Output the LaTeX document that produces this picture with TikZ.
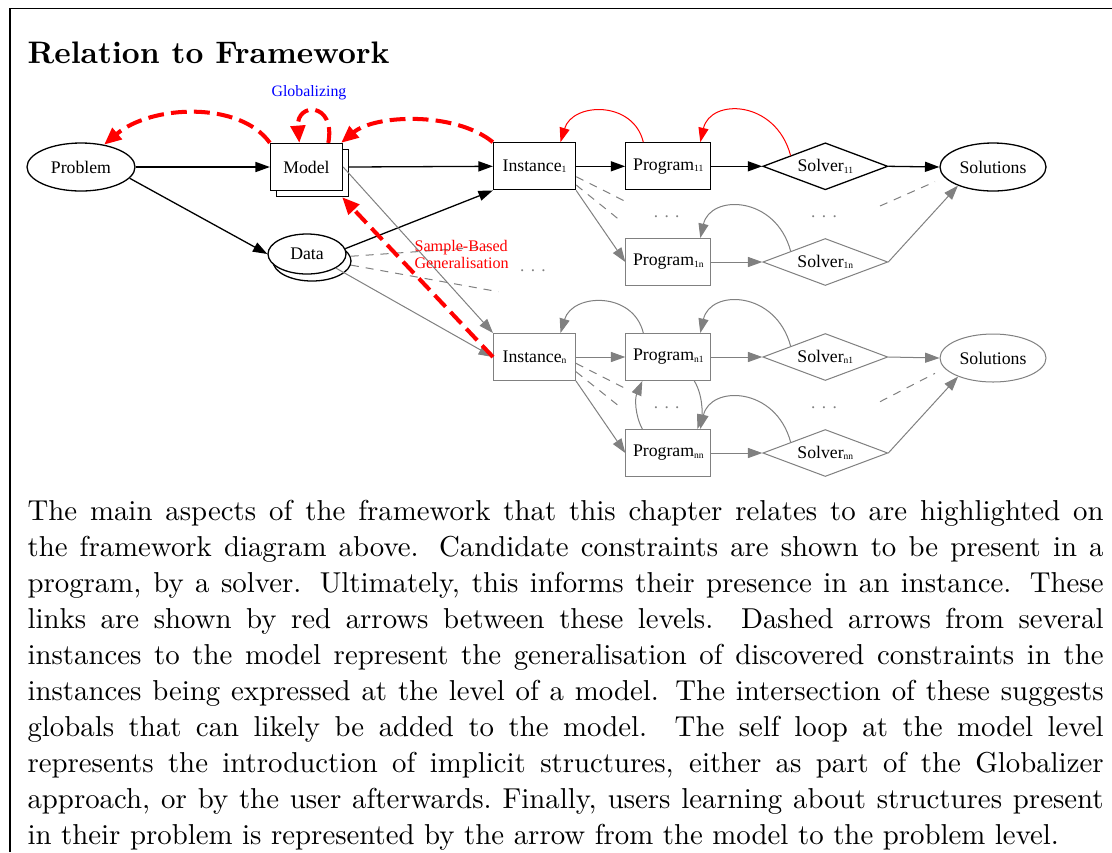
\documentclass[tikz,border=0pt]{standalone}
\usepackage{fontspec}
\newfontfamily\gvf{Liberation Serif}
\usetikzlibrary{shapes.geometric,arrows.meta,calc}
\newcommand{\pxu}{0.3472pt}
\newcommand{\sbs}[1]{\raisebox{-0.4pt}{\fontsize{3.3}{3.6}\selectfont#1}}
\tikzset{
  gv/.style={font=\gvf\fontsize{6.15}{7}\selectfont, inner sep=0pt, fill=white},
  nb/.style={draw=black, line width=0.45pt},
  ng/.style={draw=gray, line width=0.35pt},
  boxn/.style={rectangle, minimum width=#1*\pxu, minimum height=47*\pxu},
  elln/.style 2 args={ellipse, minimum width=#1*\pxu, minimum height=#2*\pxu},
  dian/.style={diamond, aspect=2.66, minimum width=125*\pxu, minimum height=47*\pxu},
  tip/.style={-{Triangle[length=5pt,width=3.5pt]}},
  eb/.style={draw=black, line width=0.45pt, tip},
  eg/.style={draw=gray, line width=0.35pt, tip},
  er/.style={draw=red, line width=0.35pt, tip},
  rt/.style={draw=red, line width=1.4pt, dash pattern=on 5.5pt off 2.5pt, -{Triangle[length=6pt,width=5pt]}},
  dg/.style={draw=gray, line width=0.35pt, dash pattern=on 2.8pt off 2.4pt},
  dotn/.style={font=\gvf\fontsize{6}{7}\selectfont, text=gray, anchor=base, inner sep=0pt},
}
\begin{document}
\begin{tikzpicture}[x=0.3472pt, y=-0.3472pt]
\useasboundingbox (0,0) rectangle (1112,852);
% frame
\draw[line width=0.45pt] (10,852) -- (10,8.5) -- (1112,8.5);
% title
\node[anchor=base west, inner sep=0pt, font=\fontsize{10.8}{13}\selectfont\bfseries] (title) at (27,63.3) {Relation to Framework};

% nodes
\node[gv, nb, elln={108}{48}] (prob) at (81,167) {Problem};
\node[gv, nb, boxn=72] (modelb) at (312.5,173) {};
\node[gv, nb, boxn=72] (model) at (306.5,167) {Model};
\node[gv, nb, elln={78}{40}] (datab) at (312,261) {};
\node[gv, nb, elln={78}{40}] (data) at (307,254) {Data};

\node[gv, nb, boxn=82] (i1) at (534.5,166.3) {Instance\sbs{1}};
\node[gv, nb, boxn=85] (p11) at (668.3,166.3) {Program\sbs{11}};
\node[gv, nb, dian] (s11) at (825.3,166.3) {Solver\sbs{11}};
\node[gv, nb, elln={106}{48}] (sol1) at (993,167) {Solutions};
\node[gv, ng, boxn=85] (p1n) at (668.3,262) {Program\sbs{1n}};
\node[gv, ng, dian] (s1n) at (825.3,262) {Solver\sbs{1n}};

\node[gv, ng, boxn=82] (inn) at (534.5,357) {Instance\sbs{n}};
\node[gv, ng, boxn=85] (pn1) at (668.3,357) {Program\sbs{n1}};
\node[gv, ng, dian] (sn1) at (825.3,357) {Solver\sbs{n1}};
\node[gv, ng, elln={106}{48}] (sol2) at (993,358) {Solutions};
\node[gv, ng, boxn=85] (pnn) at (668.3,453) {Program\sbs{nn}};
\node[gv, ng, dian] (snn) at (825.3,453) {Solver\sbs{nn}};

% dots
\node[dotn] (dt1) at (666.7,217.3) {.\hspace{2.2pt}.\hspace{2.2pt}.};
\node[dotn] (dt2) at (824,217.3) {.\hspace{2.2pt}.\hspace{2.2pt}.};
\node[dotn] (dt3) at (533,271.5) {.\hspace{2.2pt}.\hspace{2.2pt}.};
\node[dotn] (dt4) at (666.7,408) {.\hspace{2.2pt}.\hspace{2.2pt}.};
\node[dotn] (dt5) at (824,408) {.\hspace{2.2pt}.\hspace{2.2pt}.};

% free ends of dashed lines
\coordinate (c1) at (628,202.7);
\coordinate (c2) at (621.7,221.7);
\coordinate (c3) at (880,206);
\coordinate (c4) at (935,181.7);
\coordinate (c5) at (488.3,246.7);
\coordinate (c6) at (498.3,291.7);
\coordinate (c7) at (628.3,390);
\coordinate (c8) at (621.7,408.3);
\coordinate (c9) at (880,401.7);
\coordinate (c10) at (935,373.3);

% black edges
\draw[eb] (prob.east) -- (model.west);
\draw[eb] (prob.-13) -- (data.west);
\draw[eb] (model.east -| modelb.east) -- (i1.west);
\draw[eb] (data.8) -- (i1.south west);
\draw[eb] (i1.east) -- (p11.west);
\draw[eb] (p11.east) -- (s11.west);
\draw[eb] (s11.east) -- (sol1.west);

% red thin curves
\draw[er] ($(p11.north)+(-25,0)$) .. controls +(-10,-42) and +(12,-40) .. ($(i1.north)+(26,0)$);
\draw[er] ($(s11.west)!0.45!(s11.north)$) .. controls +(-15,-56) and +(10,-44) .. ($(p11.north)+(32,0)$);

% gray top block
\draw[eg] (i1.south east) -- (p1n.west);
\draw[dg] ($(i1.east)+(0,10.4)$) -- (c1);
\draw[dg] ($(i1.east)+(0,18.7)$) -- (c2);
\draw[eg] (p1n.east) -- (s1n.west);
\draw[eg] ($(s1n.west)!0.45!(s1n.north)$) .. controls +(-15,-56) and +(10,-44) .. ($(p1n.north)+(32,0)$);
\draw[eg] (s1n.east) -- (sol1.208);
\draw[dg] (c3) -- (c4);

% gray bottom block
\draw[eg] (model.east) -- (inn.north west);
\draw[eg] (data.-26.6) -- (inn.west);
\draw[dg] (datab.7) -- (c5);
\draw[dg] (datab.-6) -- (c6);
\draw[eg] (inn.east) -- (pn1.west);
\draw[eg] (pn1.east) -- (sn1.west);
\draw[eg] (sn1.east) -- (sol2.west);
\draw[eg] ($(pn1.north)+(-25,0)$) .. controls +(-10,-42) and +(12,-40) .. ($(inn.north)+(26,0)$);
\draw[eg] ($(sn1.west)!0.45!(sn1.north)$) .. controls +(-15,-56) and +(10,-44) .. ($(pn1.north)+(32,0)$);
\draw[eg] (inn.south east) -- (pnn.west);
\draw[dg] ($(inn.east)+(0,6.3)$) -- (c7);
\draw[dg] ($(inn.east)+(0,14.7)$) -- (c8);
\draw[eg] ($(pn1.south)+(26,0)$) .. controls +(8.7,14) and +(5,-14.3) .. ($(pnn.north)+(29,0)$);
\draw[eg] ($(pnn.north)+(-26,0)$) .. controls +(-7.5,-14.3) and +(-7.5,17.3) .. ($(pn1.south)+(-26,0)$);
\draw[eg] ($(snn.west)!0.45!(snn.north)$) .. controls +(-15,-56) and +(10,-44) .. ($(pnn.north)+(32,0)$);
\draw[eg] (pnn.east) -- (snn.west);
\draw[eg] (snn.east) -- (sol2.208);
\draw[dg] (c9) -- (c10);

% red thick dashed
\draw[rt] (model.north west) .. controls +(-30,-42) and +(47,-40) .. (prob.44.5);
\draw[rt] ($(model.north)+(21.8,0)$) .. controls +(7.7,-41) and +(-3.3,-41) .. ($(model.north)+(-7.2,0)$);
\draw[rt] (i1.north west) .. controls +(-38,-31) and +(33.5,-28.3) .. ($(model.north east)+(-2,0)$);
\draw[rt] (inn.west) -- ($(modelb.south east)+(-7,0)$);

% labels
\node[font=\gvf\fontsize{5.5}{6}\selectfont, text=blue, inner sep=0pt] (glob) at (309,92.5) {Globalizing};
\node[font=\gvf\fontsize{5.6}{5.8}\selectfont, text=red, align=left, anchor=west, inner sep=0pt] (sbg) at (414,254.5) {Sample-Based\\Generalisation};

% paragraph
\node[anchor=base west, inner sep=0pt, text width=373.6pt, align=justify, font=\fontsize{10}{12.5}\selectfont] (para) at (27,520.7) {The main aspects of the framework that this chapter relates to are highlighted on\linebreak
the framework diagram above.  Candidate constraints are shown to be present in a\linebreak
program, by a solver.  Ultimately, this informs their presence in an instance.  These\linebreak
links are shown by red arrows between these levels.  Dashed arrows from several\linebreak
instances to the model represent the generalisation of discovered constraints in the\linebreak
instances being expressed at the level of a model.  The intersection of these suggests\linebreak
globals that can likely be added to the model.  The self loop at the model level\linebreak
represents the introduction of implicit structures, either as part of the Globalizer\linebreak
approach, or by the user afterwards.\ Finally, users learning about structures present\linebreak
in their problem is represented by the arrow from the model to the problem level.};
\end{tikzpicture}
\end{document}
